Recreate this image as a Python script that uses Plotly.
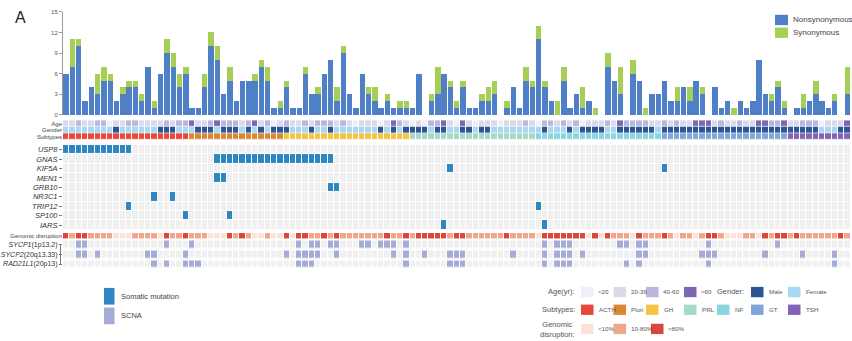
import plotly.graph_objects as go

W, H = 852, 341
N = 125
samples = list(range(1, N + 1))

# ---------------- data ----------------
nonsyn = [6, 7, 10, 2, 4, 3, 5, 5, 2, 3, 4, 4, 2, 7, 1, 6, 9, 7, 4, 6, 1, 1, 4, 10, 8,
          3, 5, 2, 5, 5, 5, 7, 5, 1, 1, 4, 1, 1, 6, 3, 3, 6, 8, 2, 9, 3, 1, 6, 3, 2,
          1, 2, 1, 1, 1, 1, 6, 0, 2, 3, 6, 4, 1, 4, 1, 1, 2, 2, 3, 0, 1, 4, 1, 5, 4,
          11, 4, 2, 0, 5, 1, 3, 1, 2, 0, 0, 7, 5, 3, 0, 6, 5, 0, 3, 3, 5, 2, 2, 4, 2,
          5, 3, 0, 4, 1, 2, 0, 2, 1, 2, 8, 3, 2, 4, 1, 0, 1, 1, 2, 3, 2, 1, 2, 0, 3]
syn = [0, 4, 1, 0, 0, 3, 2, 1, 0, 1, 1, 1, 1, 0, 1, 0, 2, 2, 2, 1, 0, 0, 2, 2, 2,
       0, 2, 0, 0, 0, 1, 1, 2, 0, 1, 1, 0, 0, 1, 0, 1, 0, 0, 2, 1, 0, 0, 0, 1, 2,
       0, 1, 0, 1, 1, 0, 0, 0, 1, 4, 0, 1, 1, 1, 0, 0, 1, 2, 2, 0, 1, 0, 0, 2, 1,
       2, 1, 0, 2, 2, 0, 0, 3, 0, 1, 0, 2, 0, 4, 0, 2, 0, 1, 0, 0, 0, 0, 2, 0, 2,
       0, 1, 0, 0, 0, 0, 1, 0, 0, 0, 0, 0, 1, 1, 1, 0, 0, 2, 0, 2, 0, 0, 1, 0, 4]

# age group: 0 <20, 1 20-39, 2 40-60, 3 >60
age = [1, 1, 2, 1, 1, 2, 2, 0, 1, 1, 2, 2, 1, 1, 1, 1, 2, 1, 2, 2, 3, 1, 1, 2, 3,
       2, 2, 2, 1, 2, 3, 1, 2, 0, 1, 2, 1, 1, 2, 1, 2, 2, 2, 1, 2, 1, 0, 1, 1, 1,
       0, 1, 3, 2, 1, 0, 1, 0, 2, 2, 3, 1, 0, 3, 1, 0, 1, 1, 1, 0, 1, 1, 1, 2, 1,
       0, 2, 2, 1, 2, 1, 2, 0, 1, 1, 1, 2, 1, 3, 2, 2, 2, 2, 1, 1, 2, 1, 2, 1, 1,
       3, 3, 3, 1, 2, 1, 1, 2, 1, 1, 3, 3, 2, 2, 3, 1, 1, 2, 2, 2, 0, 1, 1, 1, 3]
# gender: 1 male, 0 female
gender = [0, 0, 0, 0, 0, 0, 0, 0, 1, 0, 0, 0, 0, 0, 0, 1, 1, 1, 0, 0, 0, 1, 1, 1, 0,
          1, 1, 1, 0, 1, 0, 1, 0, 1, 1, 1, 0, 0, 0, 1, 0, 0, 1, 0, 0, 0, 0, 0, 0, 0,
          1, 0, 1, 0, 1, 1, 1, 1, 0, 1, 1, 0, 0, 1, 1, 0, 1, 1, 0, 0, 0, 0, 0, 0, 0,
          0, 1, 0, 0, 0, 1, 0, 1, 1, 1, 1, 0, 0, 1, 1, 1, 1, 1, 1, 0, 1, 1, 1, 1, 1,
          1, 1, 1, 1, 1, 1, 1, 1, 1, 1, 1, 1, 1, 1, 1, 1, 1, 1, 1, 1, 0, 0, 0, 1, 1]
# subtype: 0 ACTH, 1 Pluri, 2 GH, 3 PRL, 4 NF, 5 GT, 6 TSH
subtype = [0] * 20 + [1] * 15 + [2] * 20 + [3] * 20 + [4] * 20 + [5] * 20 + [6] * 10
# genomic disruption: 0 <10%, 1 10-80%, 2 >80%
disruption = [2, 1, 2, 2, 1, 1, 1, 1, 0, 0, 0, 1, 1, 1, 1, 0, 2, 1, 1, 2, 1, 1, 1, 0, 0,
              0, 2, 1, 2, 1, 0, 0, 1, 0, 0, 2, 0, 2, 2, 1, 1, 2, 1, 2, 1, 1, 1, 1, 1, 1,
              1, 2, 1, 1, 2, 1, 2, 2, 2, 2, 2, 1, 2, 2, 1, 1, 1, 1, 1, 1, 2, 1, 1, 1, 1,
              0, 2, 2, 2, 2, 2, 2, 2, 0, 2, 0, 2, 1, 1, 1, 0, 2, 1, 1, 1, 2, 1, 0, 1, 1,
              0, 1, 2, 2, 1, 0, 0, 0, 1, 1, 0, 2, 1, 2, 2, 1, 2, 1, 1, 1, 1, 1, 1, 2, 1]

# somatic mutations (sample numbers)
genes = ["USP8", "GNAS", "KIF5A", "MEN1", "GRB10", "NR3C1", "TRIP12", "SP100", "IARS"]
mut_USP8 = [1, 2, 3, 4, 5, 6, 7, 8, 9, 10, 11]
mut_GNAS = [25, 26, 27, 28, 29, 30, 31, 32, 33, 34, 35, 36, 37, 38, 39, 40, 41, 42, 43]
mut_KIF5A = [62, 96]
mut_MEN1 = [25, 26]
mut_GRB10 = [43, 44]
mut_NR3C1 = [15, 18]
mut_TRIP12 = [11, 76]
mut_SP100 = [20, 27]
mut_IARS = [61, 77]

# SCNA (sample numbers)
scna_labels = ["<i>SYCP1</i>(1p13.2)", "<i>SYCP2</i>(20q13.33)", "<i>RAD21L1</i>(20p13)"]
scna_SYCP1 = [3, 4, 17, 21, 38, 40, 41, 43, 44, 48, 49, 51, 52, 53, 55, 77, 79, 80, 81,
              89, 90, 92, 93, 103, 114]
scna_SYCP2 = [3, 4, 6, 14, 15, 20, 36, 38, 39, 40, 41, 44, 53, 55, 58, 62, 63, 64, 72,
              77, 79, 80, 81, 83, 92, 93, 102, 103, 104, 112, 118, 123]
scna_RAD21L1 = [15, 17, 20, 21, 22, 38, 39, 40, 55, 62, 63, 64, 77, 79, 80, 81, 90, 92,
                103, 123]

# ---------------- styles ----------------
C_NONSYN = "#4f7fc6"
C_SYN = "#a6cf55"
C_MUT = "#2e87c3"
C_SCNA = "#a4abd6"
C_GRID = "#f0f0f0"
age_colors = ["#efeff7", "#dadaeb", "#b7b8dc", "#7d66b3"]
age_names = ["<20", "20-39", "40-60", ">60"]
gender_colors = ["#a8d8f0", "#2b5597"]
gender_names = ["Female", "Male"]
subtype_colors = ["#e8473a", "#dc8636", "#f6c443", "#a5dac6", "#8ad5e2", "#7ea6d8", "#8463b4"]
subtype_names = ["ACTH", "Pluri", "GH", "PRL", "NF", "GT", "TSH"]
disr_colors = ["#fbe3da", "#f1a58b", "#d9463b"]
disr_names = ["<10%", "10-80%", ">80%"]
FONT = "Liberation Sans, Arial, sans-serif"
TXT = "#444444"


def px(x):
    return x / W


def py(y):
    return 1 - y / H


def dscale(colors):
    n = len(colors)
    out = []
    for i, c in enumerate(colors):
        lo = max(0.0, (i - 0.5) / (n - 1))
        hi = min(1.0, (i + 0.5) / (n - 1))
        out += [[lo, c], [hi, c]]
    return out


fig = go.Figure()

# stacked bars
fig.add_trace(go.Bar(x=samples, y=nonsyn, marker=dict(color=C_NONSYN, line=dict(width=0)),
                     xaxis="x", yaxis="y", name="Nonsynonymous"))
fig.add_trace(go.Bar(x=samples, y=syn, marker=dict(color=C_SYN, line=dict(width=0)),
                     xaxis="x", yaxis="y", name="Synonymous"))

# annotation rows
for row, (vals, cols) in enumerate([(age, age_colors), (gender, gender_colors),
                                    (subtype, subtype_colors)]):
    fig.add_trace(go.Heatmap(x=samples, y=[row], z=[vals], colorscale=dscale(cols),
                             zmin=0, zmax=len(cols) - 1, showscale=False,
                             xgap=1, ygap=1.2, xaxis="x", yaxis="y2", hoverinfo="skip"))

# mutation matrix
mut_lists = [mut_USP8, mut_GNAS, mut_KIF5A, mut_MEN1, mut_GRB10, mut_NR3C1,
             mut_TRIP12, mut_SP100, mut_IARS]
zmut = [[1 if s in m else 0 for s in samples] for m in mut_lists]
fig.add_trace(go.Heatmap(x=samples, y=list(range(len(genes))), z=zmut,
                         colorscale=[[0, C_GRID], [1, C_MUT]], zmin=0, zmax=1,
                         showscale=False, xgap=1, ygap=1, xaxis="x", yaxis="y3",
                         hoverinfo="skip"))

# genomic disruption
fig.add_trace(go.Heatmap(x=samples, y=[0], z=[disruption], colorscale=dscale(disr_colors),
                         zmin=0, zmax=2, showscale=False, xgap=1, ygap=0,
                         xaxis="x", yaxis="y4", hoverinfo="skip"))

# SCNA
scna_lists = [scna_SYCP1, scna_SYCP2, scna_RAD21L1]
zscna = [[1 if s in m else 0 for s in samples] for m in scna_lists]
fig.add_trace(go.Heatmap(x=samples, y=[0, 1, 2], z=zscna,
                         colorscale=[[0, C_GRID], [1, C_SCNA]], zmin=0, zmax=1,
                         showscale=False, xgap=1, ygap=2.6, xaxis="x", yaxis="y5",
                         hoverinfo="skip"))

ax_common = dict(showgrid=False, zeroline=False, fixedrange=True)

layout = dict(
    width=W, height=H, margin=dict(l=0, r=0, t=0, b=0),
    paper_bgcolor="white", plot_bgcolor="white",
    barmode="stack", bargap=0.14, showlegend=False,
    font=dict(family=FONT, color=TXT),
    xaxis=dict(domain=[px(63), px(850.5)], range=[0.5, N + 0.5], visible=False,
               anchor="y", **ax_common),
    yaxis=dict(domain=[py(114), py(9)], range=[0, 15], tickvals=[0, 3, 6, 9, 12, 15],
               showline=True, linecolor="#9a9a9a", linewidth=1, ticks="outside",
               ticklen=3, tickcolor="#9a9a9a", tickfont=dict(size=6, color="#555"),
               anchor="x", **ax_common),
    yaxis2=dict(domain=[py(139.3), py(119.3)], range=[2.5, -0.5], tickvals=[0, 1, 2],
                ticktext=["Age", "Gender", "Subtypes"], tickfont=dict(size=6, color=TXT),
                ticks="", showline=False, anchor="x", **ax_common),
    yaxis3=dict(domain=[py(230.8), py(144.5)], range=[len(genes) - 0.5, -0.5],
                tickvals=list(range(len(genes))),
                ticktext=["<i>%s</i>" % g for g in genes],
                tickfont=dict(size=7.5, color="#333"), ticks="outside", ticklen=3,
                tickcolor="#777", showline=False, anchor="x", **ax_common),
    yaxis4=dict(domain=[py(239.8), py(234.0)], range=[0.5, -0.5], tickvals=[0],
                ticktext=["Genomic disruption"], tickfont=dict(size=6, color=TXT),
                ticks="", showline=False, anchor="x", **ax_common),
    yaxis5=dict(domain=[py(270.7), py(240.7)], range=[2.5, -0.5], tickvals=[0, 1, 2],
                ticktext=scna_labels, tickfont=dict(size=7, color="#333"),
                ticks="outside", ticklen=3, tickcolor="#777", showline=False,
                anchor="x", **ax_common),
)
fig.update_layout(**layout)

shapes = []
annots = []

# SCNA bracket
shapes.append(dict(type="line", xref="paper", yref="y5", x0=px(60.5), x1=px(60.5),
                   y0=0, y1=2, line=dict(color="#777", width=1)))


def box(x0, y0, x1, y1, color):
    shapes.append(dict(type="rect", xref="paper", yref="paper", x0=px(x0), x1=px(x1),
                       y0=py(y1), y1=py(y0), fillcolor=color, line=dict(width=0)))


def label(x, y, text, size, xanchor="left", color=TXT, align="left"):
    annots.append(dict(xref="paper", yref="paper", x=px(x), y=py(y), text=text,
                       showarrow=False, xanchor=xanchor, yanchor="middle", align=align,
                       font=dict(size=size, color=color, family=FONT)))


# panel label
label(13, 15, "A", 16, color="#222")

# bar legend
box(775, 12, 788, 22.5, C_NONSYN)
label(791, 17, "Nonsynonymous", 8)
box(775, 25, 788, 35.5, C_SYN)
label(791, 30, "Synonymous", 8)

# mutation type legend
box(104, 290, 114.5, 307, C_MUT)
label(119, 298.5, "Somatic mutation", 7.5)
box(104, 310, 114.5, 327, C_SCNA)
label(119, 318.5, "SCNA", 7.5)

# annotation legends
leg_x = [581, 613.5, 646, 684, 717, 751, 788]
label(577, 294, "Age(yr):", 7.5, xanchor="right", color="#555")
for i, (nm, c) in enumerate(zip(age_names, age_colors)):
    box(leg_x[i], 289, leg_x[i] + 12.5, 299.5, c)
    label(leg_x[i] + 15, 294, nm, 6.2, color="#555")
label(745.5, 294, "Gender:", 7.5, xanchor="right", color="#555")
for j, i in enumerate([1, 0]):
    box(leg_x[5 + j], 289, leg_x[5 + j] + 12.5, 299.5, gender_colors[i])
    label(leg_x[5 + j] + 15.5, 294, gender_names[i], 6.2, color="#555")

label(577, 312, "Subtypes:", 7.5, xanchor="right", color="#555")
for i, (nm, c) in enumerate(zip(subtype_names, subtype_colors)):
    box(leg_x[i], 307, leg_x[i] + 12.5, 317.5, c)
    label(leg_x[i] + 15.5, 312, nm, 6.2, color="#555")

label(577, 332.5, "Genomic<br>disruption:", 7.5, xanchor="right", color="#555",
      align="center")
dx = [581, 613.5, 651]
for i, (nm, c) in enumerate(zip(disr_names, disr_colors)):
    box(dx[i], 326.5, dx[i] + 12.5, 337, c)
    label(dx[i] + 15, 331.5, nm, 6.2, color="#555")

fig.update_layout(shapes=shapes, annotations=annots)
fig.write_html("out.html")
